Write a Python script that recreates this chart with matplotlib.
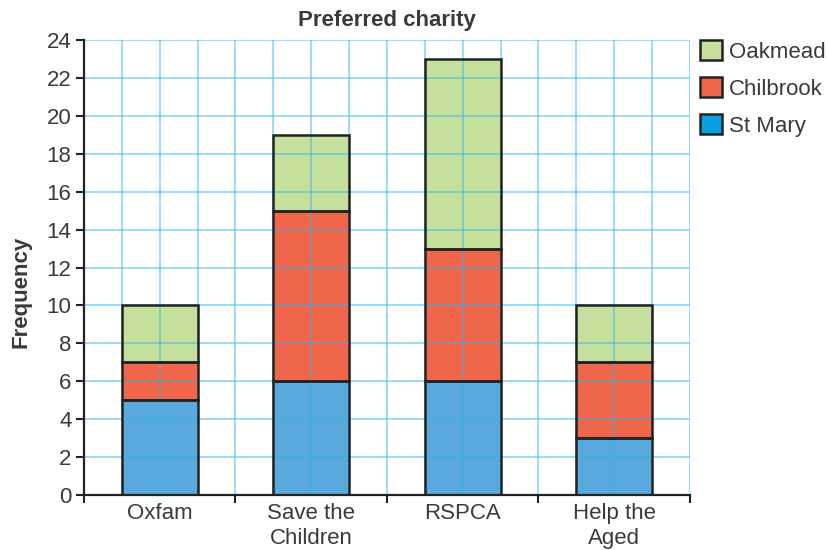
import matplotlib
matplotlib.use("Agg")
import matplotlib.pyplot as plt
from matplotlib.patches import Patch
import numpy as np

plt.rcParams['font.family'] = ['Liberation Sans', 'DejaVu Sans']

categories = ["Oxfam", "Save the\nChildren", "RSPCA", "Help the\nAged"]
st_mary = [5, 6, 6, 3]
chilbrook = [2, 9, 7, 4]
oakmead = [3, 4, 10, 3]
series_names = ["St Mary", "Chilbrook", "Oakmead"]
yticks = list(range(0, 25, 2))

bar_colors = ["#5aa9dc", "#f0664a", "#c5df9d"]
legend_colors = ["#0a9fe0", "#f0664a", "#c5df9d"]
text_color = "#3a3a3a"
grid_color = "#29b6f0"
edge = "#222222"

fig = plt.figure(figsize=(8.29, 5.5), dpi=100)
ax = fig.add_axes([84/829, 55/550, 606/829, 455/550])

x = np.arange(len(categories)) * 4 + 2
data = [st_mary, chilbrook, oakmead]
bottom = np.zeros(len(categories))
for vals, col in zip(data, bar_colors):
    ax.bar(x, vals, width=2, bottom=bottom, color=col, edgecolor="none", zorder=1)
    ax.bar(x, vals, width=2, bottom=bottom, facecolor="none", edgecolor=edge,
           linewidth=1.8, zorder=3)
    bottom += np.array(vals)

ax.set_xlim(0, 16)
ax.set_ylim(0, 24)

# grid
for gx in range(1, 17):
    ax.axvline(gx, color=grid_color, alpha=0.5, linewidth=1.3, zorder=2)
for gy in yticks[1:]:
    ax.axhline(gy, color=grid_color, alpha=0.5, linewidth=1.3, zorder=2)

ax.spines['top'].set_visible(False)
ax.spines['right'].set_visible(False)
for s in ['left', 'bottom']:
    ax.spines[s].set_color(edge)
    ax.spines[s].set_linewidth(1.6)
    ax.spines[s].set_zorder(4)

ax.set_yticks(yticks)
ax.set_yticklabels([str(v) for v in yticks])
ax.tick_params(axis='y', direction='out', length=6, width=1.5, color=edge,
               labelsize=16, labelcolor=text_color, pad=3)

ax.set_xticks([0, 4, 8, 12, 16])
ax.set_xticklabels([])
ax.set_xticks(x, minor=True)
ax.set_xticklabels(categories, minor=True, linespacing=1.2)
ax.tick_params(axis='x', which='major', direction='out', length=6, width=1.5, color=edge)
ax.tick_params(axis='x', which='minor', length=0, labelsize=16, labelcolor=text_color, pad=6)

ax.set_title("Preferred charity", fontsize=16, fontweight='bold', color=text_color, pad=10)
ax.set_ylabel("Frequency", fontsize=16, fontweight='bold', color=text_color)
ax.yaxis.set_label_coords(-0.086, 0.446)

handles = [Patch(facecolor=legend_colors[i], edgecolor=edge, linewidth=1.8)
           for i in [2, 1, 0]]
labels = [series_names[i] for i in [2, 1, 0]]
fig.legend(handles, labels, loc='upper left', bbox_to_anchor=(700/829, 1 - 40/550),
           frameon=False, fontsize=16, handlelength=1.0, handleheight=1.0,
           labelspacing=0.65, handletextpad=0.3, borderpad=0, borderaxespad=0,
           labelcolor=text_color)

fig.savefig("out.png", dpi=100)
